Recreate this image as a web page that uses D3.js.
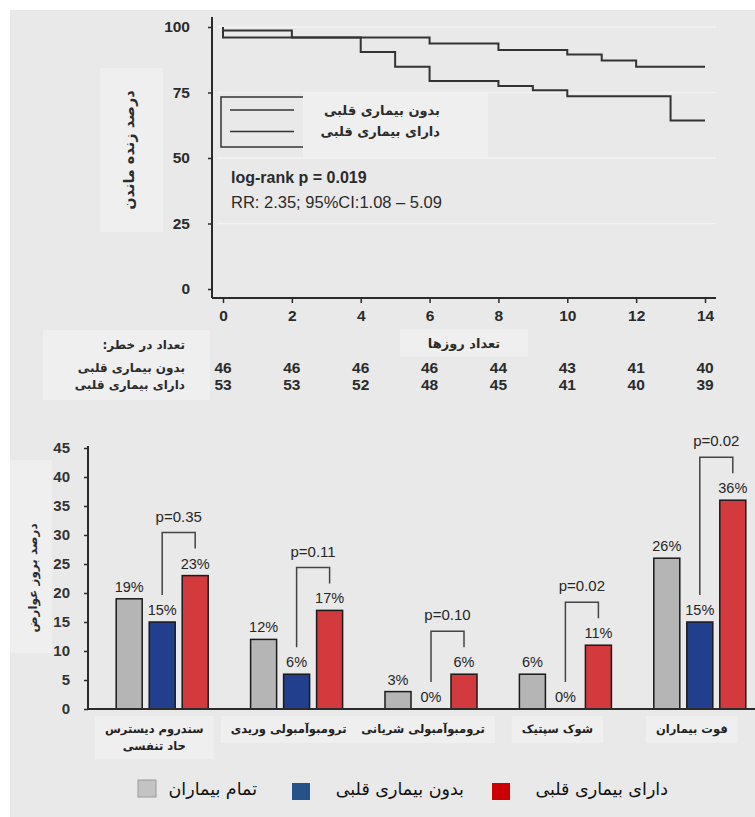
<!DOCTYPE html>
<html>
<head>
<meta charset="utf-8">
<script src="https://cdn.jsdelivr.net/npm/d3@7/dist/d3.min.js"></script>
<style>
	body { margin: 0; background: #fff; }
	svg { display: block; }
	.num { font-family: "Liberation Sans", Arial, sans-serif; }
	.fa { font-family: "DejaVu Sans", sans-serif; }
</style>
</head>
<body>
<svg id="chart" width="755" height="817"></svg>
<script>
// survival curve (Kaplan-Meier)
var noHeartTimes = [0, 0, 2, 6, 8, 10, 11, 12, 14];
var noHeartSurv = [100, 98.7, 96, 93.7, 91.2, 89.5, 87.2, 84.8, 84.8];
var heartTimes = [0, 0, 4, 5, 6, 8, 9, 10, 13, 14];
var heartSurv = [100, 96, 90.5, 84.8, 79.4, 77.5, 75.9, 73.6, 64.3, 64.3];

var dayTicks = [0, 2, 4, 6, 8, 10, 12, 14];
var survTicks = [0, 25, 50, 75, 100];
var riskNoHeart = [46, 46, 46, 46, 44, 43, 41, 40];
var riskHeart = [53, 53, 52, 48, 45, 41, 40, 39];

// complications bar chart
var categories = ["سندروم دیسترس|حاد تنفسی", "ترومبوآمبولی وریدی", "ترومبوآمبولی شریانی", "شوک سپتیک", "فوت بیماران"];
var allPatients = [19, 12, 3, 6, 26];
var noHeartPct = [15, 6, 0, 0, 15];
var heartPct = [23, 17, 6, 11, 36];
var pValues = ["p=0.35", "p=0.11", "p=0.10", "p=0.02", "p=0.02"];
var barTicks = [0, 5, 10, 15, 20, 25, 30, 35, 40, 45];

var legendNames = ["تمام بیماران", "بدون بیماری قلبی", "دارای بیماری قلبی"];

var svg = d3.select("#chart");
var ink = "#2b2b2b";

// grey page panel with a white margin top/left
svg.append("rect")
	.attr("x", 10).attr("y", 10)
	.attr("width", 745).attr("height", 807)
	.attr("fill", "#e9e9e9");

// light box behind a text node, like the pasted-over labels in the source
function backBox(sel, padX, padY) {
	sel.each(function() {
		var b = this.getBBox();
		d3.select(this.parentNode).insert("rect", ":first-child")
			.attr("x", b.x - padX).attr("y", b.y - padY)
			.attr("width", b.width + padX * 2).attr("height", b.height + padY * 2)
			.attr("fill", "#efefef");
	});
}

/* ---------- top: survival ---------- */
var km = svg.append("g");
var x = d3.scaleLinear().domain([0, 14]).range([223, 705]);
var y = d3.scaleLinear().domain([0, 100]).range([289, 27]);
var axX = 212, axY = 298;

// faint grid
km.selectAll("line.grid")
	.data(survTicks.filter(function(d) { return d > 0; }))
	.enter().append("line")
	.attr("class", "grid")
	.attr("x1", axX + 5).attr("x2", 716)
	.attr("y1", function(d) { return y(d); })
	.attr("y2", function(d) { return y(d); })
	.attr("stroke", "#f3f3f3")
	.attr("stroke-width", 1.5);

var yAxis = km.append("g")
	.attr("transform", "translate(" + axX + ",0)")
	.call(d3.axisLeft(y).tickValues(survTicks).tickSize(4).tickPadding(18));
var xAxis = km.append("g")
	.attr("transform", "translate(0," + axY + ")")
	.call(d3.axisBottom(x).tickValues(dayTicks).tickSize(5).tickPadding(7));

[yAxis, xAxis].forEach(function(g) {
	g.select(".domain").remove();
	g.selectAll("line").attr("stroke", ink).attr("stroke-width", 1.5);
	g.selectAll("text")
		.attr("class", "num")
		.attr("fill", ink)
		.attr("font-size", 15.5)
		.attr("font-weight", "bold");
});

km.append("line")
	.attr("x1", axX).attr("x2", axX)
	.attr("y1", y(100) - 10).attr("y2", axY)
	.attr("stroke", ink).attr("stroke-width", 2);
km.append("line")
	.attr("x1", axX).attr("x2", 716)
	.attr("y1", axY).attr("y2", axY)
	.attr("stroke", ink).attr("stroke-width", 2);

var line = d3.line()
	.x(function(d) { return x(d[0]); })
	.y(function(d) { return y(d[1]); })
	.curve(d3.curveStepAfter);

[d3.zip(noHeartTimes, noHeartSurv), d3.zip(heartTimes, heartSurv)].forEach(function(pts) {
	km.append("path")
		.datum(pts)
		.attr("d", line)
		.attr("fill", "none")
		.attr("stroke", "#333")
		.attr("stroke-width", 2);
});

// legend box (right part covered by the translated labels)
var lg = km.append("g");
lg.append("rect")
	.attr("x", 303).attr("y", 93)
	.attr("width", 185).attr("height", 64)
	.attr("fill", "#efefef");
lg.append("path")
	.attr("d", "M303,97H221V147H303")
	.attr("fill", "none")
	.attr("stroke", "#333")
	.attr("stroke-width", 1.5);
lg.selectAll("line.key")
	.data([legendNames[1], legendNames[2]])
	.enter().append("line")
	.attr("class", "key")
	.attr("x1", 230).attr("x2", 294)
	.attr("y1", function(d, i) { return 110 + i * 21.5; })
	.attr("y2", function(d, i) { return 110 + i * 21.5; })
	.attr("stroke", "#333")
	.attr("stroke-width", 1.5);
lg.selectAll("text.key")
	.data([legendNames[1], legendNames[2]])
	.enter().append("text")
	.attr("class", "key fa")
	.attr("x", 440)
	.attr("y", function(d, i) { return 110 + i * 21; })
	.attr("dy", "0.35em")
	.attr("text-anchor", "end")
	.attr("font-size", 13)
	.attr("font-weight", "bold")
	.attr("fill", ink)
	.text(function(d) { return d; });

km.append("text")
	.attr("class", "num")
	.attr("x", 231).attr("y", 177).attr("dy", "0.35em")
	.attr("font-size", 16).attr("font-weight", "bold").attr("fill", ink)
	.text("log-rank p = 0.019");
km.append("text")
	.attr("class", "num")
	.attr("x", 231).attr("y", 202).attr("dy", "0.35em")
	.attr("font-size", 16.5).attr("fill", ink)
	.text("RR: 2.35; 95%CI:1.08 – 5.09");

// axis titles (rotated so the words read top to bottom)
var yTitle = km.append("g").attr("transform", "translate(129,150)");
yTitle.append("rect")
	.attr("x", -29).attr("y", -82)
	.attr("width", 63).attr("height", 164)
	.attr("fill", "#efefef");
yTitle.append("text")
	.attr("class", "fa")
	.attr("transform", "rotate(-90)")
	.attr("text-anchor", "middle")
	.attr("dy", "0.35em")
	.attr("font-size", 14.5).attr("font-weight", "bold").attr("fill", ink)
	.text("درصد زنده ماندن");

var xTitle = km.append("g");
xTitle.append("text")
	.attr("class", "fa")
	.attr("x", 464).attr("y", 343).attr("dy", "0.35em")
	.attr("text-anchor", "middle")
	.attr("font-size", 13).attr("font-weight", "bold").attr("fill", ink)
	.text("تعداد روزها");
backBox(xTitle.select("text"), 28, 6);

// numbers at risk
var risk = km.append("g");
risk.append("rect")
	.attr("x", 43).attr("y", 330)
	.attr("width", 167).attr("height", 70)
	.attr("fill", "#efefef");
risk.selectAll("text.lab")
	.data(["تعداد در خطر:\u200F", legendNames[1], legendNames[2]])
	.enter().append("text")
	.attr("class", "lab fa")
	.attr("x", 185)
	.attr("y", function(d, i) { return [345, 368, 385][i]; })
	.attr("dy", "0.35em")
	.attr("text-anchor", "end")
	.attr("font-size", 12).attr("font-weight", "bold").attr("fill", ink)
	.text(function(d) { return d; });

[riskNoHeart, riskHeart].forEach(function(row, r) {
	risk.selectAll("text.r" + r)
		.data(row)
		.enter().append("text")
		.attr("class", "num r" + r)
		.attr("x", function(d, i) { return x(dayTicks[i]); })
		.attr("y", r ? 385 : 368)
		.attr("dy", "0.35em")
		.attr("text-anchor", "middle")
		.attr("font-size", 15.5).attr("font-weight", "bold").attr("fill", ink)
		.text(function(d) { return d; });
});

/* ---------- bottom: complications ---------- */
var bot = svg.append("g");
var yb = d3.scaleLinear().domain([0, 45]).range([709, 448]);
var xb = d3.scaleBand().domain(categories).range([95, 767]);
var sub = d3.scalePoint().domain(["all", "no", "heart"]).range([-33, 33]);
var barW = 26, bx = 88;
var colors = { all: "#b5b5b5", no: "#213f8c", heart: "#d23a3e" };

var ybAxis = bot.append("g")
	.attr("transform", "translate(" + bx + ",0)")
	.call(d3.axisLeft(yb).tickValues(barTicks).tickSize(4).tickPadding(14));
ybAxis.select(".domain").remove();
ybAxis.selectAll("line").attr("stroke", ink).attr("stroke-width", 1.5);
ybAxis.selectAll("text")
	.attr("class", "num")
	.attr("fill", "#333")
	.attr("font-size", 15)
	.attr("font-weight", "bold");

bot.append("line")
	.attr("x1", bx).attr("x2", bx)
	.attr("y1", yb(45) - 2).attr("y2", yb(0))
	.attr("stroke", ink).attr("stroke-width", 2);

var rows = categories.map(function(c, i) {
	return { cat: c, all: allPatients[i], no: noHeartPct[i], heart: heartPct[i], p: pValues[i] };
});

var groups = bot.selectAll("g.grp")
	.data(rows)
	.enter().append("g")
	.attr("class", "grp")
	.attr("transform", function(d) { return "translate(" + (xb(d.cat) + xb.bandwidth() / 2) + ",0)"; });

groups.selectAll("rect")
	.data(function(d) { return ["all", "no", "heart"].map(function(k) { return { key: k, v: d[k] }; }); })
	.enter().append("rect")
	.attr("x", function(d) { return sub(d.key) - barW / 2; })
	.attr("y", function(d) { return yb(d.v); })
	.attr("width", barW)
	.attr("height", function(d) { return yb(0) - yb(d.v); })
	.attr("fill", function(d) { return colors[d.key]; })
	.attr("stroke", function(d) { return d.v > 0 ? "#1a1a1a" : "none"; })
	.attr("stroke-width", 1.5);

groups.selectAll("text.val")
	.data(function(d) { return ["all", "no", "heart"].map(function(k) { return { key: k, v: d[k] }; }); })
	.enter().append("text")
	.attr("class", "val num")
	.attr("x", function(d) { return sub(d.key); })
	.attr("y", function(d) { return yb(d.v) - 12; })
	.attr("dy", "0.35em")
	.attr("text-anchor", "middle")
	.attr("font-size", 14.5).attr("fill", "#262626")
	.text(function(d) { return d.v + "%"; });

// significance brackets between the two sub groups
groups.append("path")
	.attr("d", function(d) {
		var l = yb(d.no) - 27, r = yb(d.heart) - 27, t = Math.min(l, r) - 16;
		return "M" + sub("no") + "," + l + "V" + t + "H" + sub("heart") + "V" + r;
	})
	.attr("fill", "none")
	.attr("stroke", "#444")
	.attr("stroke-width", 1.5);
groups.append("text")
	.attr("class", "num")
	.attr("x", (sub("no") + sub("heart")) / 2)
	.attr("y", function(d) { return Math.min(yb(d.no), yb(d.heart)) - 27 - 16 - 16; })
	.attr("dy", "0.35em")
	.attr("text-anchor", "middle")
	.attr("font-size", 15).attr("fill", "#262626")
	.text(function(d) { return d.p; });

bot.append("line")
	.attr("x1", bx).attr("x2", 755)
	.attr("y1", yb(0)).attr("y2", yb(0))
	.attr("stroke", ink).attr("stroke-width", 2);

// category labels
groups.append("text")
	.attr("class", "fa cat")
	.attr("text-anchor", "middle")
	.attr("font-size", 11.5).attr("font-weight", "bold").attr("fill", "#222")
	.each(function(d) {
		var parts = d.cat.split("|");
		d3.select(this).selectAll("tspan")
			.data(parts)
			.enter().append("tspan")
			.attr("x", -8)
			.attr("y", function(p, i) { return 729 + i * 17; })
			.attr("dy", "0.35em")
			.text(function(p) { return p; });
	});
groups.each(function() { backBox(d3.select(this).select("text.cat"), 10, 6); });

var ybTitle = bot.append("g").attr("transform", "translate(33,578)");
ybTitle.append("rect")
	.attr("x", -23).attr("y", -118)
	.attr("width", 42).attr("height", 193)
	.attr("fill", "#efefef");
ybTitle.append("text")
	.attr("class", "fa")
	.attr("transform", "rotate(-90)")
	.attr("text-anchor", "middle")
	.attr("dy", "0.35em")
	.attr("font-size", 12).attr("font-weight", "bold").attr("fill", ink)
	.text("درصد بروز عوارض");

// bottom legend
var legItems = [
	{ name: legendNames[0], fill: "#c3c3c3", stroke: "#9a9a9a", sx: 138, sy: 780, tx: 257 },
	{ name: legendNames[1], fill: "#25528a", stroke: "none", sx: 292, sy: 783, tx: 464 },
	{ name: legendNames[2], fill: "#cc0000", stroke: "none", sx: 492, sy: 783, tx: 668 }
];
var leg = bot.selectAll("g.leg")
	.data(legItems)
	.enter().append("g")
	.attr("class", "leg");
leg.append("rect")
	.attr("x", function(d) { return d.sx; })
	.attr("y", function(d) { return d.sy; })
	.attr("width", 18).attr("height", 17)
	.attr("fill", function(d) { return d.fill; })
	.attr("stroke", function(d) { return d.stroke; });
leg.append("text")
	.attr("class", "fa")
	.attr("x", function(d) { return d.tx; })
	.attr("y", 789)
	.attr("dy", "0.35em")
	.attr("text-anchor", "end")
	.attr("font-size", 17.5).attr("fill", "#111")
	.text(function(d) { return d.name; });
</script>
</body>
</html>
